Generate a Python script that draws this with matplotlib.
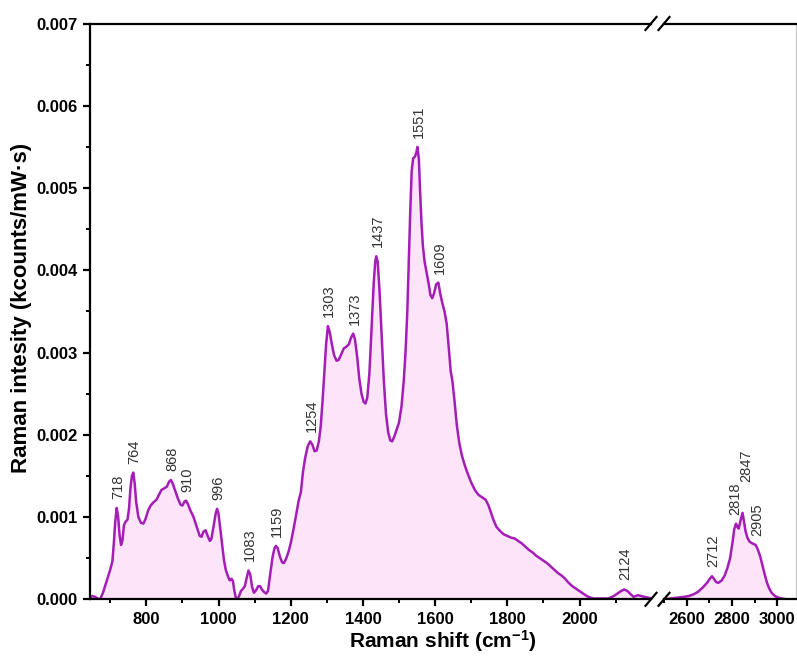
import numpy as np
import matplotlib
matplotlib.use("Agg")
import matplotlib.pyplot as plt
from matplotlib.lines import Line2D
from matplotlib.ticker import MultipleLocator, FormatStrFormatter

plt.rcParams['font.family'] = ['Liberation Sans', 'DejaVu Sans']
plt.rcParams['mathtext.fontset'] = 'custom'
plt.rcParams['mathtext.rm'] = 'Liberation Sans:bold'
plt.rcParams['mathtext.default'] = 'rm'

# ---------------- data ----------------
shift_low = [645, 650, 658, 665, 672, 680, 690, 700, 706, 710, 714, 718, 722, 726, 730, 734,
             738, 742, 748, 752, 756, 760, 764, 768, 772, 778, 785, 792, 798, 805, 812, 820,
             828, 835, 842, 850, 857, 863, 868, 873, 880, 887, 895, 900, 906, 910, 916, 922,
             930, 936, 942, 948, 953, 958, 964, 970, 976, 980, 986, 992, 996, 1000, 1005,
             1010, 1015, 1020, 1026, 1031, 1036, 1040, 1044, 1048, 1052, 1057, 1062, 1068,
             1073, 1078, 1083, 1088, 1093, 1098, 1104, 1110, 1115, 1120, 1126, 1132, 1137,
             1143, 1150, 1155, 1159, 1164, 1170, 1176, 1181, 1187, 1194, 1200, 1208, 1216,
             1222, 1228, 1234, 1240, 1247, 1254, 1260, 1266, 1272, 1278, 1283, 1288, 1293,
             1298, 1303, 1308, 1314, 1320, 1327, 1333, 1340, 1347, 1354, 1361, 1367, 1373,
             1378, 1384, 1390, 1396, 1402, 1407, 1412, 1418, 1424, 1430, 1434, 1437, 1441,
             1446, 1452, 1458, 1464, 1470, 1476, 1481, 1487, 1494, 1500, 1507, 1513, 1518,
             1523, 1527, 1531, 1535, 1539, 1544, 1548, 1551, 1555, 1558, 1562, 1566, 1571,
             1576, 1582, 1587, 1592, 1597, 1603, 1609, 1614, 1620, 1626, 1632, 1638, 1643,
             1648, 1654, 1660, 1667, 1674, 1682, 1690, 1700, 1710, 1720, 1730, 1740, 1748,
             1755, 1762, 1770, 1780, 1790, 1800, 1810, 1820, 1830, 1840, 1850, 1860, 1870,
             1880, 1890, 1900, 1910, 1920, 1930, 1940, 1950, 1960, 1970, 1980, 1990, 2000,
             2010, 2020, 2030, 2040, 2060, 2080, 2095, 2105, 2115, 2124, 2133, 2142, 2150,
             2156, 2162, 2170, 2180, 2190, 2200]
intensity_low = [0.00002, 0.00004, 0.00003, 0.00001, 0.0, 0.00008, 0.00022, 0.00036, 0.00046,
                 0.00068, 0.00095, 0.00111, 0.00100, 0.00078, 0.00066, 0.00072, 0.00090,
                 0.00094, 0.00097, 0.00110, 0.00135, 0.00150, 0.00154, 0.00140, 0.00118,
                 0.00100, 0.00093, 0.00092, 0.00098, 0.00108, 0.00114, 0.00118, 0.00121,
                 0.00127, 0.00133, 0.00135, 0.00137, 0.00143, 0.00145, 0.00141, 0.00132,
                 0.00123, 0.00115, 0.00114, 0.00119, 0.00120, 0.00115, 0.00108, 0.00101,
                 0.00093, 0.00085, 0.00077, 0.00076, 0.00082, 0.00084, 0.00077, 0.00071,
                 0.00073, 0.00088, 0.00104, 0.00110, 0.00104, 0.00085, 0.00065, 0.00048,
                 0.00036, 0.00028, 0.00023, 0.00025, 0.00022, 0.00010, 0.00002, 0.0, 0.00004,
                 0.00010, 0.00013, 0.00016, 0.00026, 0.00035, 0.00030, 0.00015, 0.00008,
                 0.00011, 0.00016, 0.00016, 0.00012, 0.00009, 0.00007, 0.00010, 0.00030,
                 0.00052, 0.00062, 0.00065, 0.00062, 0.00052, 0.00045, 0.00044, 0.00049,
                 0.00058, 0.00068, 0.00086, 0.00105, 0.00120, 0.00130, 0.00155, 0.00172,
                 0.00186, 0.00192, 0.00188, 0.00180, 0.00181, 0.00192, 0.00210, 0.00240,
                 0.00275, 0.00310, 0.00332, 0.00325, 0.00310, 0.00297, 0.00290, 0.00291,
                 0.00298, 0.00305, 0.00307, 0.00310, 0.00318, 0.00323, 0.00316, 0.00295,
                 0.00268, 0.00250, 0.00240, 0.00238, 0.00245, 0.00275, 0.00330, 0.00385,
                 0.00410, 0.00417, 0.00410, 0.00375, 0.00320, 0.00265, 0.00225, 0.00203,
                 0.00193, 0.00192, 0.00198, 0.00207, 0.00215, 0.00235, 0.00265, 0.00300,
                 0.00350, 0.00410, 0.00470, 0.00520, 0.00536, 0.00538, 0.00543, 0.00550,
                 0.00535, 0.00500, 0.00460, 0.00430, 0.00410, 0.00398, 0.00384, 0.00370,
                 0.00366, 0.00372, 0.00383, 0.00385, 0.00372, 0.00360, 0.00350, 0.00335,
                 0.00305, 0.00278, 0.00265, 0.00240, 0.00212, 0.00190, 0.00175, 0.00163,
                 0.00153, 0.00142, 0.00133, 0.00127, 0.00124, 0.00121, 0.00114, 0.00105,
                 0.00096, 0.00088, 0.00083, 0.00079, 0.00077, 0.00075, 0.00074, 0.00071,
                 0.00068, 0.00064, 0.00060, 0.00057, 0.00053, 0.00050, 0.00047, 0.00044,
                 0.00040, 0.00036, 0.00032, 0.00029, 0.00025, 0.00020, 0.00016, 0.00013,
                 0.00010, 0.00007, 0.00004, 0.00002, 0.00001, 0.00001, 0.00001, 0.00004,
                 0.00007, 0.00010, 0.00012, 0.00010, 0.00006, 0.00003, 0.00004, 0.00005,
                 0.00004, 0.00003, 0.00002, 0.00001]

shift_high = [2500, 2530, 2560, 2590, 2610, 2630, 2650, 2670, 2690, 2705, 2712, 2720, 2730,
              2740, 2755, 2768, 2780, 2792, 2802, 2810, 2818, 2824, 2830, 2838, 2847, 2853,
              2860, 2868, 2878, 2890, 2905, 2915, 2925, 2935, 2945, 2955, 2965, 2975, 2990,
              3005, 3020, 3040, 3083]
intensity_high = [0.0, 0.00001, 0.00002, 0.00003, 0.00004, 0.00006, 0.00009, 0.00014, 0.00020,
                  0.00026, 0.00028, 0.00025, 0.00021, 0.00020, 0.00023, 0.00029, 0.00038,
                  0.00050, 0.00068, 0.00085, 0.00092, 0.00088, 0.00086, 0.00096, 0.00105,
                  0.00095, 0.00083, 0.00075, 0.00070, 0.00068, 0.00066, 0.00060, 0.00052,
                  0.00041, 0.00030, 0.00020, 0.00013, 0.00008, 0.00004, 0.00002, 0.00001,
                  0.0, 0.0]

peaks_low = [718, 764, 868, 910, 996, 1083, 1159, 1254, 1303, 1373, 1437, 1551, 1609, 2124]
peaks_high = [2712, 2818, 2847, 2905]

x_ticks_low = [800, 1000, 1200, 1400, 1600, 1800, 2000]
x_ticks_high = [2600, 2800, 3000]
y_ticks = [0.000, 0.001, 0.002, 0.003, 0.004, 0.005, 0.006, 0.007]

# ---------------- styling ----------------
W, H = 797, 657
LINE = '#a41db7'
FILL = '#fde4f8'
LBL = '#333333'

fig = plt.figure(figsize=(W / 100, H / 100), dpi=100)

def fx(px):
    return px / W

def fy(py):
    return 1 - py / H

top_px, bot_px = 23.5, 599.3
left_l, right_l = 90, 651
left_r, right_r = 664, 796

ax1 = fig.add_axes([fx(left_l), fy(bot_px), fx(right_l - left_l), (bot_px - top_px) / H])
ax2 = fig.add_axes([fx(left_r), fy(bot_px), fx(right_r - left_r), (bot_px - top_px) / H],
                   sharey=ax1)

for ax, xs, ys in ((ax1, shift_low, intensity_low), (ax2, shift_high, intensity_high)):
    ax.fill_between(xs, ys, 0, color=FILL, lw=0, zorder=1)
    ax.plot(xs, ys, color=LINE, lw=1.8, zorder=2, solid_joinstyle='round')
    for s in ax.spines.values():
        s.set_linewidth(1.6)
    ax.tick_params(axis='both', which='major', direction='out', length=5, width=1.6,
                   labelsize=12, pad=4)
    ax.tick_params(axis='both', which='minor', direction='out', length=3, width=1.4)
    ax.xaxis.set_minor_locator(MultipleLocator(100))

ax1.set_xlim(644, 2198)
ax2.set_xlim(2500, 3083)
ax1.set_ylim(0, 0.007)
ax1.set_xticks(x_ticks_low)
ax2.set_xticks(x_ticks_high)
ax1.set_yticks(y_ticks)
ax1.yaxis.set_minor_locator(MultipleLocator(0.0005))
ax1.yaxis.set_major_formatter(FormatStrFormatter('%.3f'))
ax1.spines['right'].set_visible(False)
ax2.spines['left'].set_visible(False)
ax2.spines['right'].set_color('#c8c8c8')
ax2.spines['right'].set_linewidth(1.0)
ax2.tick_params(axis='y', which='both', left=False, labelleft=False)
for ax in (ax1, ax2):
    for lab in ax.get_xticklabels() + ax.get_yticklabels():
        lab.set_fontweight('bold')

# peak labels
def annotate(ax, xs, ys, peaks, extra):
    for p in peaks:
        yv = np.interp(p, xs, ys)
        dx, dy = extra.get(p, (0, 0))
        ax.annotate(str(p), xy=(p, yv), xytext=(1 + dx, 6.5 + dy),
                    textcoords='offset points', rotation=90, ha='center', va='bottom',
                    fontsize=10.5, color=LBL)

annotate(ax1, shift_low, intensity_low, peaks_low, {})
annotate(ax2, shift_high, intensity_high, peaks_high, {2818: (-1.5, 0), 2847: (1.5, 16)})

# axis labels
fig.text(fx(22), fy(308), 'Raman intesity (kcounts/mW\u00b7s)', rotation=90,
         ha='center', va='center', fontsize=16, fontweight='bold')
fig.text(fx(443), fy(628), 'Raman shift (cm$^{-1}$)', ha='center', va='top',
         fontsize=15, fontweight='bold')

# axis break marks
for cx in (651, 664):
    for cy in (top_px, bot_px):
        fig.add_artist(Line2D([fx(cx - 5.5), fx(cx + 5.5)], [fy(cy + 6.5), fy(cy - 6.5)],
                              color='black', lw=1.6))

fig.savefig('out.png', dpi=100)
